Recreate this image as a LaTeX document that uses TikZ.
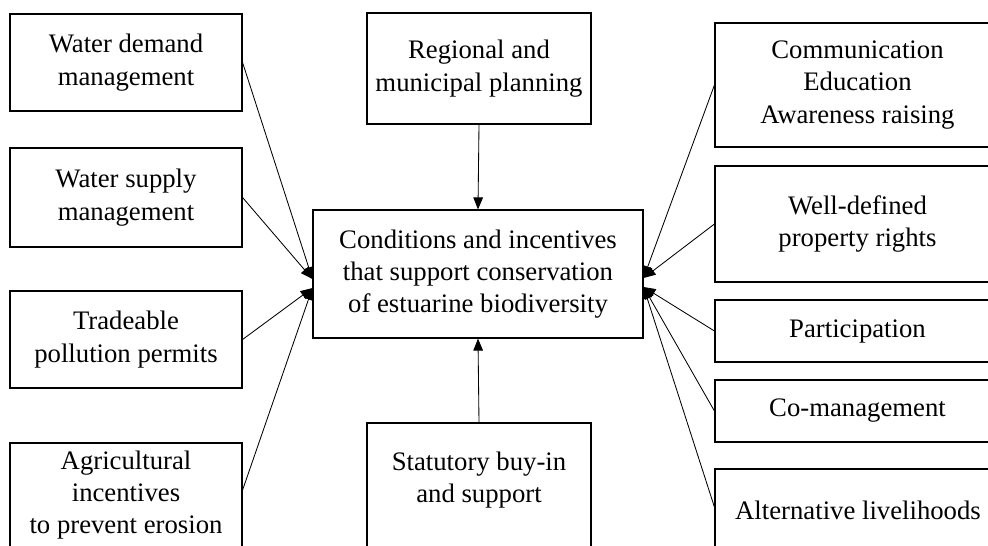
\documentclass[tikz,border=0pt]{standalone}
\usepackage{fontspec}
\setmainfont{Liberation Serif}
\usetikzlibrary{arrows.meta,fit}
\begin{document}
\begin{tikzpicture}[x=0.025cm,y=-0.025cm,
  box/.style={draw,line width=0.8pt,inner sep=0pt},
  lbl/.style={align=center,font=\fontsize{19}{23}\selectfont,inner sep=0pt},
  link/.style={line width=0.6pt,-{Triangle[length=0.3cm,width=0.24cm]}}]
\useasboundingbox (0,0) rectangle (988,546);
\clip (0,0) rectangle (988,546);

% left column
\node[box,fit={(10,14)(242,111)}] (dem) {};
\node[box,fit={(10,148)(242,247)}] (sup) {};
\node[box,fit={(10,291)(242,388)}] (trd) {};
\node[box,fit={(10,443)(242,570)}] (agr) {};
\node[lbl] (demt) at (dem.center) {Water demand\\management};
\node[lbl] (supt) at (sup.center) {Water supply\\management};
\node[lbl] (trdt) at (trd.center) {Tradeable\\pollution permits};
\node[lbl] (agrt) at (126,495) {Agricultural\\incentives\\to prevent erosion};

% centre column
\node[box,fit={(367,13)(591,124)}] (reg) {};
\node[box,fit={(313,210)(643,338)}] (ctr) {};
\node[box,fit={(367,423)(591,580)}] (sta) {};
\node[lbl] (regt) at (reg.center) {Regional and\\municipal planning};
\node[lbl] (ctrt) at (ctr.center) {Conditions and incentives\\that support conservation\\of estuarine biodiversity};
\node[lbl] (stat) at (479,480) {Statutory buy-in\\and support};

% right column
\node[box,fit={(715,23)(1000,147)}] (com) {};
\node[box,fit={(715,166)(1000,282)}] (wel) {};
\node[box,fit={(715,300)(1000,362)}] (par) {};
\node[box,fit={(715,380)(1000,442)}] (com2) {};
\node[box,fit={(715,469)(1000,570)}] (alt) {};
\node[lbl] (comt) at (com.center) {Communication\\Education\\Awareness raising};
\node[lbl] (welt) at (wel.center) {Well-defined\\property rights};
\node[lbl] (part) at (par.center) {Participation};
\node[lbl] (com2t) at (com2.center) {Co-management};
\node[lbl] (altt) at (858,510) {Alternative livelihoods};

% connectors
\draw[link] (reg.south) -- (ctr.north);
\draw[link] (sta.north) -- (ctr.south);

\draw[link] (dem.east) -- ([yshift=-0.125cm]ctr.west);
\draw[link] (sup.east) -- ([yshift=-0.125cm]ctr.west);
\draw[link] (trd.east) -- ([yshift=-0.35cm]ctr.west);
\draw[link] ([yshift=0.41cm]agr.east) -- ([yshift=-0.35cm]ctr.west);

\draw[link] (com.west) -- ([yshift=-0.1cm]ctr.east);
\draw[link] (wel.west) -- ([yshift=-0.1cm]ctr.east);
\draw[link] (par.west) -- ([yshift=-0.325cm]ctr.east);
\draw[link] (com2.west) -- ([yshift=-0.325cm]ctr.east);
\draw[link] ([yshift=0.31cm]alt.west) -- ([yshift=-0.325cm]ctr.east);
\end{tikzpicture}
\end{document}
